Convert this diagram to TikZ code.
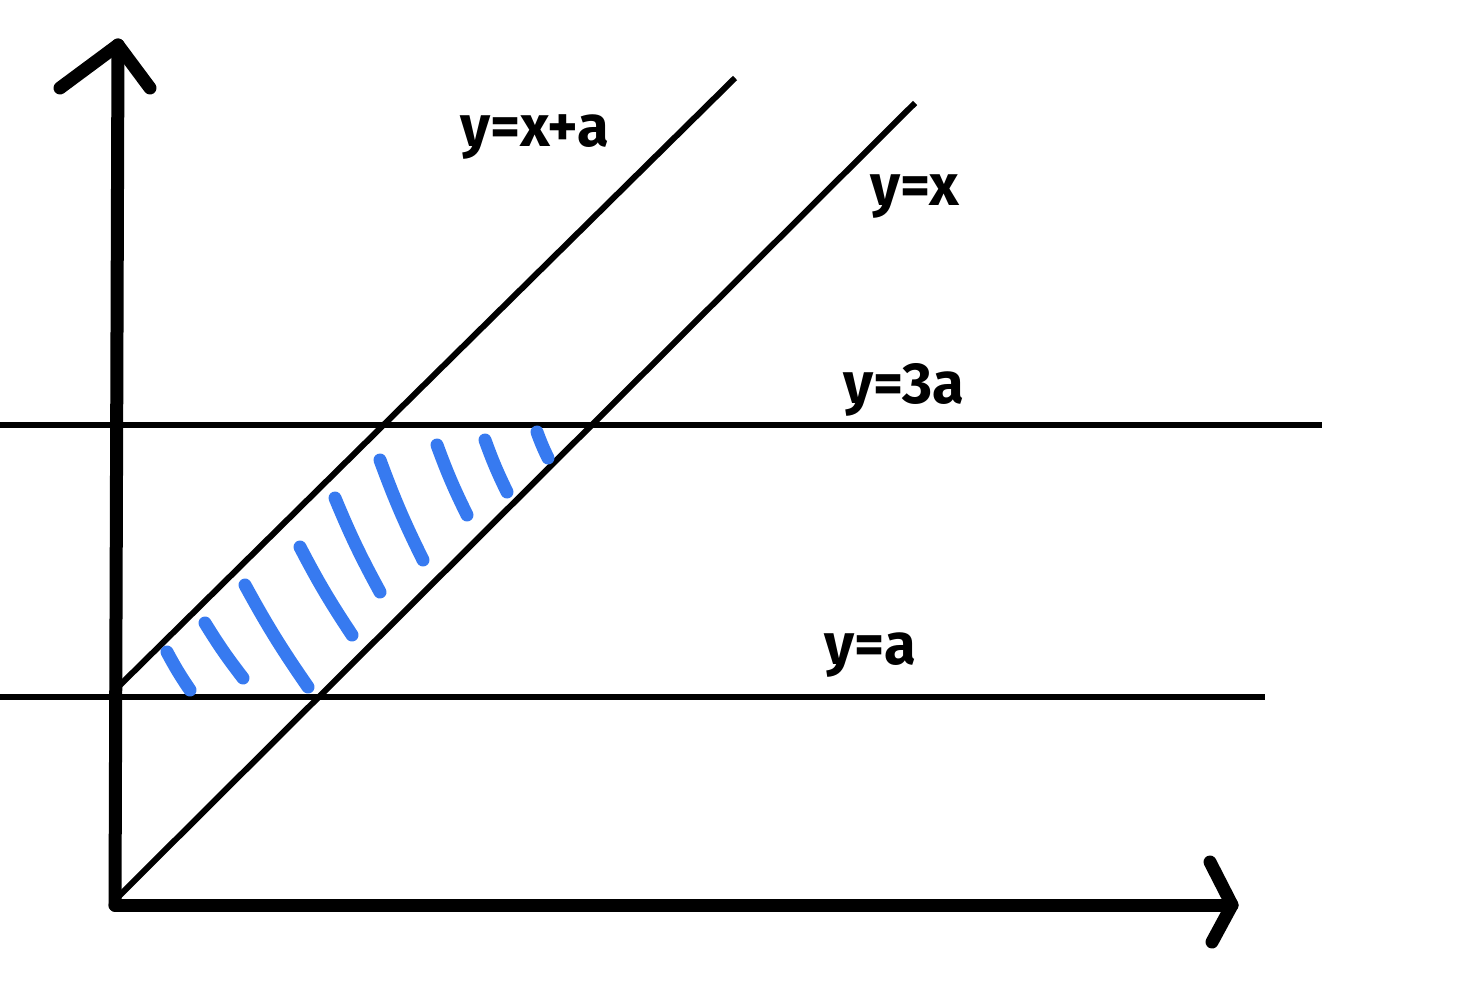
\documentclass[tikz,border=0pt]{standalone}
\usepackage{fontspec}
\setsansfont{Fira Sans}
\usepackage{tikz}
\usetikzlibrary{calc}

\begin{document}
\begin{tikzpicture}[x=0.5pt, y=-0.5pt,
        axis/.style={line width=6.5pt, line cap=round, line join=round, draw=black},
        graph/.style={line width=3pt, draw=black},
        hatch/.style={line width=6.5pt, line cap=round, draw={rgb,255:red,55;green,122;blue,240}},
        label/.style={font=\sffamily\bfseries\fontsize{29}{32}\selectfont, inner sep=0pt}
    ]
    \useasboundingbox (0,0) rectangle (1459,990);

    % Axes
    \coordinate (origin) at (115, 905);
    \coordinate (ytip) at (118, 45);
    \coordinate (xtip) at (1232, 905);
    \draw[axis] (origin) -- (ytip);
    \draw[axis] (origin) -- (xtip);
    \draw[axis] (60, 88) -- (ytip) -- (150, 88);
    \draw[axis] (1210, 862) -- (xtip) -- (1212, 942);

    % Lines
    \coordinate (dstart) at (115, 900);
    \coordinate (dend) at (915, 103);
    \coordinate (ustart) at (115, 690);
    \coordinate (uend) at (735, 78);
    \draw[graph] (dstart) -- (dend);
    \draw[graph] (ustart) -- (uend);
    \coordinate (lowstart) at (0, 697);
    \coordinate (lowend) at (1265, 697);
    \coordinate (highstart) at (0, 425);
    \coordinate (highend) at (1322, 425);
    \draw[graph] (lowstart) -- (lowend);
    \draw[graph] (highstart) -- (highend);

    % Labels
    \node[label] (lblxa) at (535, 137) {y=x+a};
    \node[label] (lblx) at (915, 197) {y=x};
    \node[label] (lbl3a) at (904, 390) {y=3a};
    \node[label] (lbla) at (870, 655) {y=a};

    % Hatching
    \foreach \ax/\ay/\bx/\by in {167/652/190/690, 205/623/243/678, 245/585/308/687,
        300/547/352/635, 335/498/380/592, 380/460/423/560, 437/445/467/515,
        485/440/507/492, 537/432/548/458}
        \draw[hatch] (\ax,\ay) to[bend right=3] (\bx,\by);
\end{tikzpicture}
\end{document}
